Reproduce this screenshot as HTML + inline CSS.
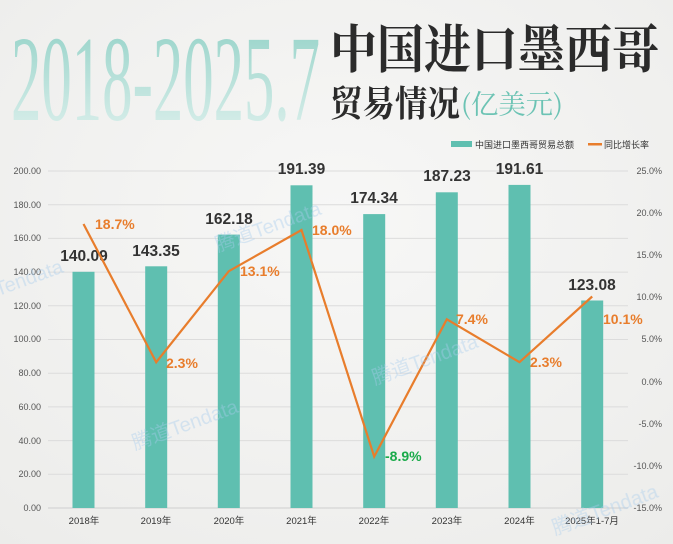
<!DOCTYPE html>
<html><head><meta charset="utf-8"><style>
html,body{margin:0;padding:0;background:#f1f1f0;}
svg{display:block;font-family:"Liberation Sans","Noto Sans CJK SC",sans-serif;}
</style></head><body>
<svg width="673" height="544" viewBox="0 0 673 544" xmlns="http://www.w3.org/2000/svg">
<defs>
<linearGradient id="tg" x1="0" y1="0" x2="0" y2="1">
<stop offset="0" stop-color="#8fd0c5"/><stop offset="1" stop-color="#e2f2ef"/>
</linearGradient>
<radialGradient id="bg" cx="0.5" cy="0.4" r="0.8"><stop offset="0" stop-color="#f7f7f6"/><stop offset="1" stop-color="#ececea"/></radialGradient>
</defs>
<rect width="673" height="544" fill="url(#bg)"/>
<text x="11" y="120" font-family="Liberation Serif,serif" font-size="122" fill="url(#tg)" textLength="309" lengthAdjust="spacingAndGlyphs">2018-2025.7</text>
<text x="330" y="68" font-family="'Noto Serif CJK SC',serif" font-weight="bold" font-size="52" fill="#2b2b2b" textLength="329" lengthAdjust="spacingAndGlyphs">中国进口墨西哥</text>
<text x="330" y="116" font-family="'Noto Serif CJK SC',serif" font-weight="bold" font-size="36" fill="#2b2b2b" textLength="130" lengthAdjust="spacingAndGlyphs">贸易情况</text>
<text x="461" y="114" font-family="'Noto Serif CJK SC',serif" font-size="27" fill="#6cc3b4" textLength="102" lengthAdjust="spacingAndGlyphs">(亿美元)</text>
<rect x="451" y="141" width="21" height="6" fill="#5fbfb0"/>
<text x="475" y="148" font-size="9" fill="#333">中国进口墨西哥贸易总额</text>
<rect x="588" y="143" width="14" height="2.5" fill="#e87d2c"/>
<text x="604" y="148" font-size="9" fill="#333">同比增长率</text>
<g stroke="#dcdcdc" stroke-width="1">
<line x1="48" x2="628" y1="171" y2="171"/><line x1="48" x2="628" y1="204.7" y2="204.7"/>
<line x1="48" x2="628" y1="238.4" y2="238.4"/><line x1="48" x2="628" y1="272.1" y2="272.1"/>
<line x1="48" x2="628" y1="305.8" y2="305.8"/><line x1="48" x2="628" y1="339.5" y2="339.5"/>
<line x1="48" x2="628" y1="373.2" y2="373.2"/><line x1="48" x2="628" y1="406.9" y2="406.9"/>
<line x1="48" x2="628" y1="440.6" y2="440.6"/><line x1="48" x2="628" y1="474.3" y2="474.3"/>
<line x1="48" x2="628" y1="508" y2="508" stroke="#cfcfcf"/>
</g>
<g font-size="9" fill="#555" text-anchor="end">
<text x="41" y="174">200.00</text><text x="41" y="208">180.00</text><text x="41" y="241">160.00</text>
<text x="41" y="275">140.00</text><text x="41" y="309">120.00</text><text x="41" y="342">100.00</text>
<text x="41" y="376">80.00</text><text x="41" y="410">60.00</text><text x="41" y="444">40.00</text>
<text x="41" y="477">20.00</text><text x="41" y="511">0.00</text>
</g>
<g font-size="9" fill="#555" text-anchor="end">
<text x="662" y="174">25.0%</text><text x="662" y="216">20.0%</text><text x="662" y="258">15.0%</text>
<text x="662" y="300">10.0%</text><text x="662" y="342">5.0%</text><text x="662" y="385">0.0%</text>
<text x="662" y="427">-5.0%</text><text x="662" y="469">-10.0%</text><text x="662" y="511">-15.0%</text>
</g>
<g fill="#5fbfb0">
<rect x="72.5" y="271.8" width="22" height="236.2"/>
<rect x="145.2" y="266.3" width="22" height="241.7"/>
<rect x="217.8" y="234.6" width="22" height="273.4"/>
<rect x="290.5" y="185.3" width="22" height="322.7"/>
<rect x="363.2" y="214.1" width="22" height="293.9"/>
<rect x="435.8" y="192.3" width="22" height="315.7"/>
<rect x="508.5" y="184.9" width="22" height="323.1"/>
<rect x="581.2" y="300.5" width="22" height="207.5"/>
</g>
<g font-size="15.5" font-weight="bold" fill="#333" text-anchor="middle">
<text x="84" y="261">140.09</text><text x="156" y="256">143.35</text><text x="229" y="224">162.18</text>
<text x="301.5" y="174">191.39</text><text x="374" y="203">174.34</text><text x="447" y="181">187.23</text>
<text x="519.5" y="174">191.61</text><text x="592" y="290">123.08</text>
</g>
<polyline fill="none" stroke="#e87d2c" stroke-width="2.2" points="83.5,224 156.2,362.2 228.8,271.2 301.5,230 374.2,456.6 446.8,319.3 519.5,362.2 592.2,296.5"/>
<g font-size="14" font-weight="bold" fill="#e87d2c">
<text x="95" y="229">18.7%</text><text x="166" y="368">2.3%</text><text x="240" y="276">13.1%</text>
<text x="312" y="235">18.0%</text><text x="385" y="461" fill="#1aaa4a">-8.9%</text>
<text x="456" y="324">7.4%</text><text x="530" y="367">2.3%</text><text x="603" y="324">10.1%</text>
</g>
<g font-size="9.5" fill="#333" text-anchor="middle">
<text x="84" y="524">2018年</text><text x="156" y="524">2019年</text><text x="229" y="524">2020年</text>
<text x="301.5" y="524">2021年</text><text x="374" y="524">2022年</text><text x="447" y="524">2023年</text>
<text x="519.5" y="524">2024年</text><text x="592" y="524">2025年1-7月</text>
</g>
<g font-size="20" fill="#a9cdee" opacity="0.4">
<text transform="translate(218,252) rotate(-20)">腾道Tendata</text>
<text transform="translate(135,450) rotate(-20)">腾道Tendata</text>
<text transform="translate(375,385) rotate(-20)">腾道Tendata</text>
<text transform="translate(555,535) rotate(-20)">腾道Tendata</text>
<text transform="translate(-40,310) rotate(-20)">腾道Tendata</text>
</g>
</svg>
</body></html>
